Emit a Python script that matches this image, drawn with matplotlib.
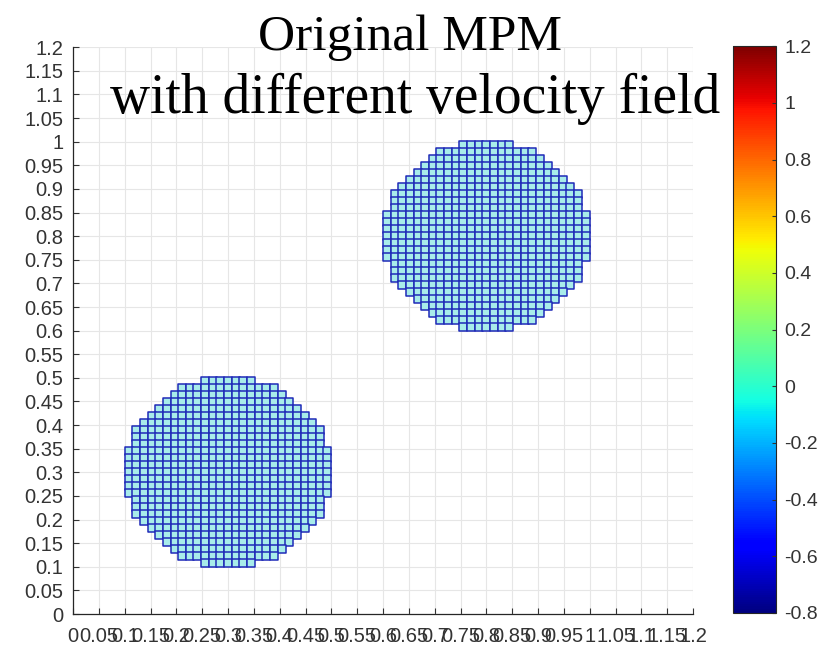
import numpy as np
import matplotlib
matplotlib.use("Agg")
import matplotlib.pyplot as plt
from matplotlib.colors import Normalize

plt.rcParams['axes.unicode_minus'] = False

# two disks of material points
disk_centers_x = [0.3, 0.8]
disk_centers_y = [0.3, 0.8]
particle_spacing = 0.0148
# number of particles in each row, top row to bottom row (same for both disks)
row_counts = [7, 13, 15, 17, 19, 21, 23, 25, 25, 25, 27, 27, 27, 27, 27,
              27, 27, 25, 25, 25, 23, 21, 19, 17, 15, 13, 7]

axis_ticks = [0, 0.05, 0.1, 0.15, 0.2, 0.25, 0.3, 0.35, 0.4, 0.45, 0.5, 0.55,
              0.6, 0.65, 0.7, 0.75, 0.8, 0.85, 0.9, 0.95, 1, 1.05, 1.1, 1.15, 1.2]
cbar_ticks = [-0.8, -0.6, -0.4, -0.2, 0, 0.2, 0.4, 0.6, 0.8, 1, 1.2]
cbar_min, cbar_max = -0.8, 1.2


def label(v):
    s = f"{v:.2f}".rstrip('0').rstrip('.')
    return "0" if s in ("-0", "") else s


# build particle positions from the row counts
px, py = [], []
nrows = len(row_counts)
for xc, yc in zip(disk_centers_x, disk_centers_y):
    for i, n in enumerate(row_counts):
        y = yc + ((nrows - 1) / 2 - i) * particle_spacing
        for j in range(n):
            px.append(xc + (j - (n - 1) / 2) * particle_spacing)
            py.append(y)

fig = plt.figure(figsize=(8.3, 6.47), dpi=100)
ax = fig.add_axes([0.088, 0.051, 0.747, 0.876])

ax.scatter(px, py, marker='s', s=28, facecolor='#a8ecea',
           edgecolor='#1f2ab8', linewidth=1.1, zorder=3)

ax.set_xlim(0, 1.2)
ax.set_ylim(0, 1.2)
ax.set_xticks(axis_ticks)
ax.set_yticks(axis_ticks)
ax.set_xticklabels([label(v) for v in axis_ticks])
ax.set_yticklabels([label(v) for v in axis_ticks])
ax.grid(True, color='#e6e6e6', linewidth=0.8, zorder=0)
ax.set_axisbelow(True)
for side in ['top', 'right']:
    ax.spines[side].set_visible(False)
for side in ['left', 'bottom']:
    ax.spines[side].set_color('#262626')
    ax.spines[side].set_linewidth(0.9)
ax.tick_params(direction='in', length=4, width=0.8, colors='#333333',
               labelsize=14.5)
ax.tick_params(axis='y', pad=7)
ax.tick_params(axis='x', pad=9)
for t in ax.get_xticklabels() + ax.get_yticklabels():
    t.set_fontfamily('Liberation Sans')

# colorbar
cax = fig.add_axes([0.883, 0.0526, 0.052, 0.876])
sm = plt.cm.ScalarMappable(norm=Normalize(cbar_min, cbar_max), cmap='jet')
cb = fig.colorbar(sm, cax=cax, ticks=cbar_ticks)
cb.ax.set_yticklabels([label(v) for v in cbar_ticks])
cb.outline.set_edgecolor('#262626')
cb.outline.set_linewidth(0.8)
cb.ax.tick_params(direction='in', length=3, width=0.8, colors='#333333',
                  labelsize=14, pad=6)
for t in cb.ax.get_yticklabels():
    t.set_fontfamily('Liberation Sans')

fig.text(0.494, 0.923, 'Original MPM', ha='center', va='baseline',
         fontsize=37, family='Liberation Serif')
fig.text(0.5, 0.826, 'with different velocity field', ha='center',
         va='baseline', fontsize=40, family='Liberation Serif')

fig.savefig('out.png', dpi=100)
